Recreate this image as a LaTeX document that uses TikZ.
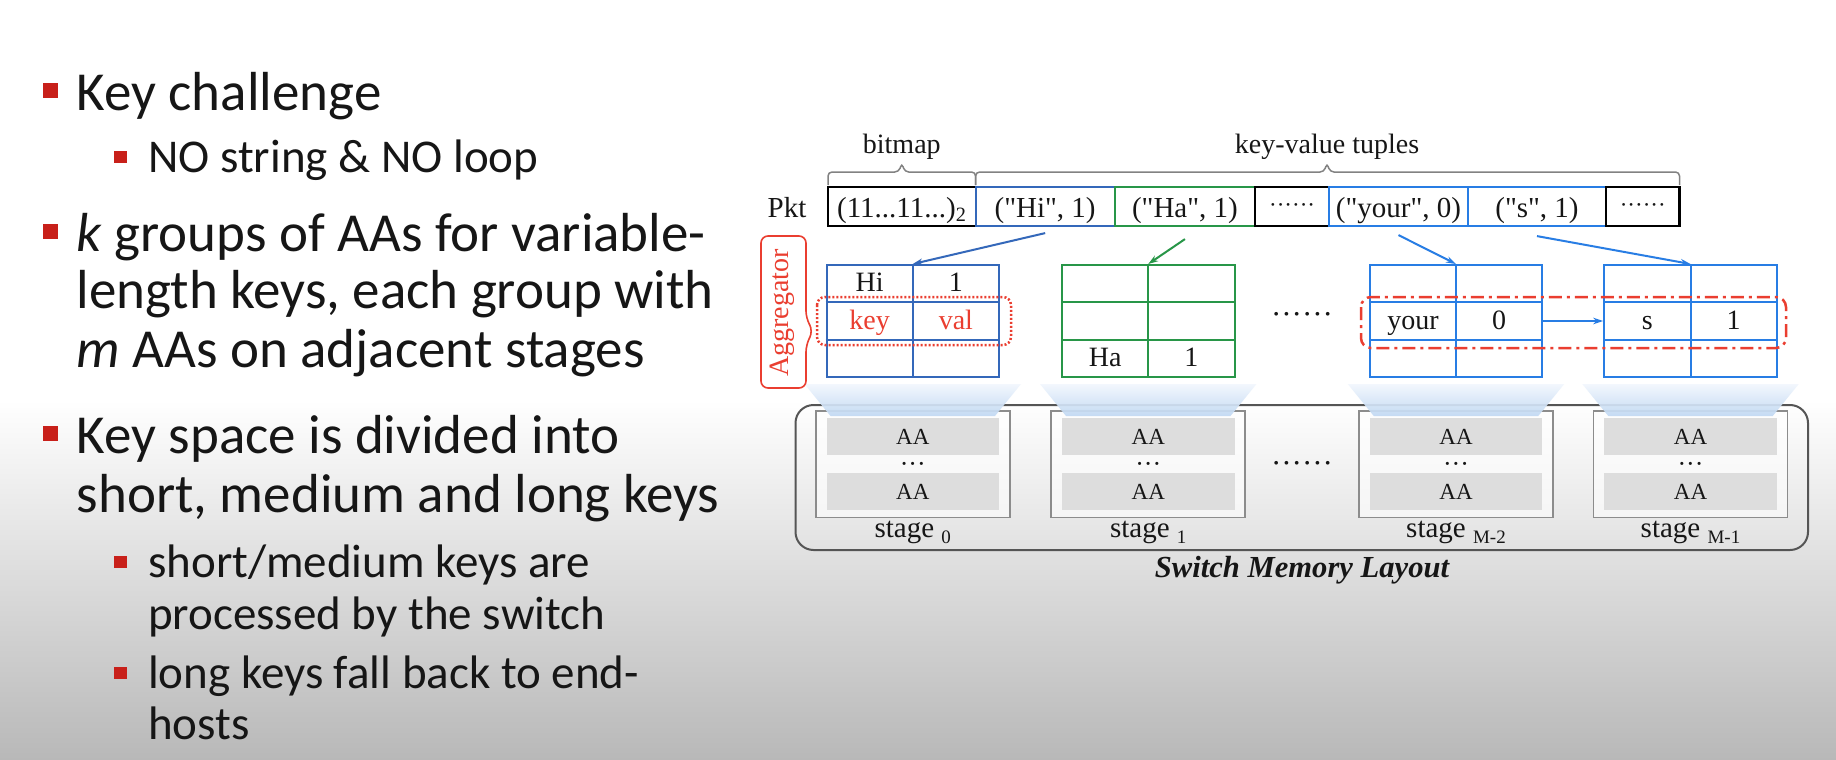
\documentclass[tikz,border=0pt]{standalone}
\usepackage{fontspec}
\setmainfont{Liberation Serif}
\newfontfamily\rawserif{Liberation Serif}[Ligatures=ResetAll]
\newfontfamily\slidefont{Carlito}
\usetikzlibrary{arrows.meta,calc}

\definecolor{bluea}{RGB}{52,104,186}
\definecolor{blueb}{RGB}{40,125,228}
\definecolor{greena}{RGB}{40,150,72}
\definecolor{reda}{RGB}{234,62,48}
\definecolor{bulletred}{RGB}{200,32,26}
\definecolor{bgbot}{RGB}{184,184,184}
\definecolor{glowA}{RGB}{242,247,253}
\definecolor{glowB}{RGB}{192,216,243}
\definecolor{aagray}{RGB}{221,221,221}
\definecolor{framegray}{RGB}{85,85,85}
\definecolor{stagegray}{RGB}{140,140,140}
\definecolor{bracegray}{RGB}{130,130,130}
\definecolor{txt}{RGB}{22,22,22}

\newcommand{\kvtable}[3]{%
  \node[tbl, draw=#3] (#1) at (#2,321) {};
  \draw[#3, line width=2pt] (#1.north) -- (#1.south)
    ($(#1.north west)!1/3!(#1.south west)$) -- ($(#1.north east)!1/3!(#1.south east)$)
    ($(#1.north west)!2/3!(#1.south west)$) -- ($(#1.north east)!2/3!(#1.south east)$);
}
\newcommand{\glowunder}[1]{%
  \shade[top color=glowA, bottom color=glowB, opacity=0.92]
    ([xshift=-21pt,yshift=-6pt]#1.south west) -- ([xshift=21pt,yshift=-6pt]#1.south east)
    -- ([xshift=-5pt,yshift=-38pt]#1.south east) -- ([xshift=5pt,yshift=-38pt]#1.south west) -- cycle;
}
\newcommand{\stagecol}[3]{%
  \node[stagebox] (#1) at (#2,464) {};
  \node[aabox] (#1a) at (#2,436.7) {AA};
  \node[aabox] (#1b) at (#2,491.7) {AA};
  \node[dots, font=\fontsize{26}{26}\selectfont] (#1d) at (#2,472) {\textperiodcentered\textperiodcentered\textperiodcentered};
  \node[stagelab] (#1l) at (#2,537) {stage \raisebox{-6pt}{\fontsize{19}{19}\selectfont #3}};
}

\begin{document}
\begin{tikzpicture}[x=1pt,y=-1pt,
  pktcell/.style={draw, line width=2.2pt, minimum height=39pt, inner sep=0pt},
  ptext/.style={font=\rawserif\fontsize{29}{30}\selectfont, text=txt, inner sep=0pt, anchor=base},
  lab/.style={font=\fontsize{28}{30}\selectfont, text=txt, inner sep=0pt, anchor=base},
  tbl/.style={line width=2pt, minimum width=172.5pt, minimum height=112pt, inner sep=0pt},
  ctext/.style={font=\fontsize{28}{30}\selectfont, text=txt, inner sep=0pt, anchor=base},
  rtext/.style={ctext, text=reda},
  dots/.style={text=txt, inner sep=0pt, anchor=base},
  stagebox/.style={draw=stagegray, line width=1.6pt, fill=white, fill opacity=0.6, text opacity=1, minimum width=194pt, minimum height=106.6pt, inner sep=0pt},
  aabox/.style={fill=aagray, minimum width=172.5pt, minimum height=36.7pt, inner sep=0pt, text=txt, font=\fontsize{23}{24}\selectfont},
  stagelab/.style={font=\fontsize{29}{30}\selectfont, text=txt, inner sep=0pt, anchor=base},
  bracepath/.style={draw=bracegray, line width=1.5pt, rounded corners=4pt},
  arr/.style={line width=2pt, -{Stealth[length=10pt,width=6.5pt]}},
  bul/.style={font=\slidefont\fontsize{55}{60}\selectfont, text=txt, inner sep=0pt, anchor=base west},
  subbul/.style={font=\slidefont\fontsize{47}{52}\selectfont, text=txt, inner sep=0pt, anchor=base west}
]
\useasboundingbox (0,0) rectangle (1836,760);
% background
\fill[white] (0,0) rectangle (1836,760);
\shade[top color=white, bottom color=bgbot] (0,400) rectangle (1836,760);

% ---------------- left text ----------------
\fill[bulletred] (43,83) rectangle (58,98);
\node[bul] (l1) at (76.5,110) {Key challenge};
\fill[bulletred] (114,151) rectangle (127,163);
\node[subbul] (l2) at (148,172) {NO string \& NO loop};
\fill[bulletred] (43,224) rectangle (58,239);
\node[bul] (l3) at (76.5,251) {\textit{k} groups of AAs for variable-};
\node[bul] (l4) at (76.5,308) {length keys, each group with};
\node[bul] (l5) at (76.5,367) {\textit{m} AAs on adjacent stages};
\fill[bulletred] (43,426) rectangle (58,441);
\node[bul] (l6) at (76.5,453) {Key space is divided into};
\node[bul] (l7) at (76.5,512) {short, medium and long keys};
\fill[bulletred] (114,556) rectangle (127,568);
\node[subbul] (l8) at (148,577) {short/medium keys are};
\node[subbul] (l9) at (148,629) {processed by the switch};
\fill[bulletred] (114,667) rectangle (127,679);
\node[subbul] (l10) at (148,688) {long keys fall back to end-};
\node[subbul] (l11) at (148,739) {hosts};

% ---------------- switch memory layout ----------------
\node[draw=framegray, line width=2pt, rounded corners=18pt, minimum width=1012.5pt, minimum height=145pt, inner sep=0pt] (mem) at (1301.75,477.5) {};
\stagecol{S0}{912.75}{0}
\stagecol{S1}{1148.25}{1}
\stagecol{S2}{1456}{M-2}
\stagecol{S3}{1690.5}{M-1}
\node[dots, font=\fontsize{31}{31}\selectfont] (sdots) at (1302,473) {\textperiodcentered\textperiodcentered\textperiodcentered\textperiodcentered\textperiodcentered\textperiodcentered};
\node[font=\bfseries\itshape\fontsize{30.6}{32}\selectfont, text=txt, inner sep=0pt, anchor=base] (sml) at (1302,577) {Switch Memory Layout};

% ---------------- tables ----------------
\kvtable{T0}{912.75}{bluea}
\kvtable{T1}{1148.25}{greena}
\kvtable{T2}{1456}{blueb}
\kvtable{T3}{1690.5}{blueb}
\glowunder{T0}
\glowunder{T1}
\glowunder{T2}
\glowunder{T3}

\node[ctext] (t0a) at (869.6,291.5) {Hi};
\node[ctext] (t0b) at (955.9,291.5) {1};
\node[rtext] (t0c) at (869.6,329) {key};
\node[rtext] (t0d) at (955.9,329) {val};
\node[ctext] (t1a) at (1105.1,366.5) {Ha};
\node[ctext] (t1b) at (1191.4,366.5) {1};
\node[ctext] (t2a) at (1412.9,329) {your};
\node[ctext] (t2b) at (1499.1,329) {0};
\node[ctext] (t3a) at (1647.4,329) {s};
\node[ctext] (t3b) at (1733.6,329) {1};
\node[dots, font=\fontsize{31}{31}\selectfont] (tdots) at (1302,324) {\textperiodcentered\textperiodcentered\textperiodcentered\textperiodcentered\textperiodcentered\textperiodcentered};

% aggregator highlights
\draw[reda, line width=2.5pt, dash pattern=on 2pt off 2pt, rounded corners=8pt] (817,297) rectangle (1011,345);
\draw[reda, line width=2.5pt, dash pattern=on 13pt off 5pt on 3pt off 5pt, rounded corners=10pt] (1361,297) rectangle (1786,348);
\draw[reda, line width=1.6pt, rounded corners=7pt] (806,236) -- (761,236) -- (761,388) -- (806,388) -- (806,345) -- (813,331) -- (806,318) -- cycle;
\node[font=\fontsize{28}{30}\selectfont, text=reda, inner sep=0pt, anchor=base, rotate=90] (agg) at (788,313) {Aggregator};

% ---------------- packet ----------------
\node[ptext] (pkt) at (787,217) {Pkt};
\node[pktcell, draw=black, minimum width=147.6pt] (bm) at (901.8,206.5) {};
\node[pktcell, draw=bluea, minimum width=139.1pt] (hi) at (1045.15,206.5) {};
\node[pktcell, draw=greena, minimum width=140.5pt] (ha) at (1184.95,206.5) {};
\node[pktcell, draw=black, minimum width=73.8pt] (d1) at (1292.1,206.5) {};
\node[pktcell, draw=blueb, minimum width=139pt] (yo) at (1398.5,206.5) {};
\node[pktcell, draw=blueb, minimum width=138pt] (sc) at (1537,206.5) {};
\node[pktcell, draw=black, minimum width=73.5pt] (d2) at (1642.75,206.5) {};
\node[ptext] (bmt) at (901.8,217) {(11...11...)\textsubscript{2}};
\node[ptext] (hit) at (1045.15,217) {("Hi", 1)};
\node[ptext] (hat) at (1184.95,217) {("Ha", 1)};
\node[dots, font=\fontsize{23}{23}\selectfont] (d1t) at (1292.1,212) {\textperiodcentered\textperiodcentered\textperiodcentered\textperiodcentered\textperiodcentered\textperiodcentered};
\node[ptext] (yot) at (1398.5,217) {("your", 0)};
\node[ptext] (sct) at (1537,217) {("s", 1)};
\node[dots, font=\fontsize{23}{23}\selectfont] (d2t) at (1642.75,212) {\textperiodcentered\textperiodcentered\textperiodcentered\textperiodcentered\textperiodcentered\textperiodcentered};

% braces
\draw[bracepath] (828,185) -- (828,172) -- (898.8,172) -- (901.8,163) -- (904.8,172) -- (975.6,172) -- (975.6,185);
\draw[bracepath] (975.6,185) -- (975.6,172) -- (1324,172) -- (1327,163) -- (1330,172) -- (1679.5,172) -- (1679.5,185);
\node[lab] (bml) at (901.8,153) {bitmap};
\node[lab] (kvl) at (1327,153) {key-value tuples};

% arrows
\draw[arr, bluea] ([yshift=-6pt]hi.south) -- (T0.north);
\draw[arr, greena] ([yshift=-12pt]ha.south) -- (T1.north);
\draw[arr, blueb] ([yshift=-8pt]yo.south) -- (T2.north);
\draw[arr, blueb] ([yshift=-9pt]sc.south) -- (T3.north);
\draw[arr, blueb] (T2.east) -- (T3.west);
\end{tikzpicture}
\end{document}
